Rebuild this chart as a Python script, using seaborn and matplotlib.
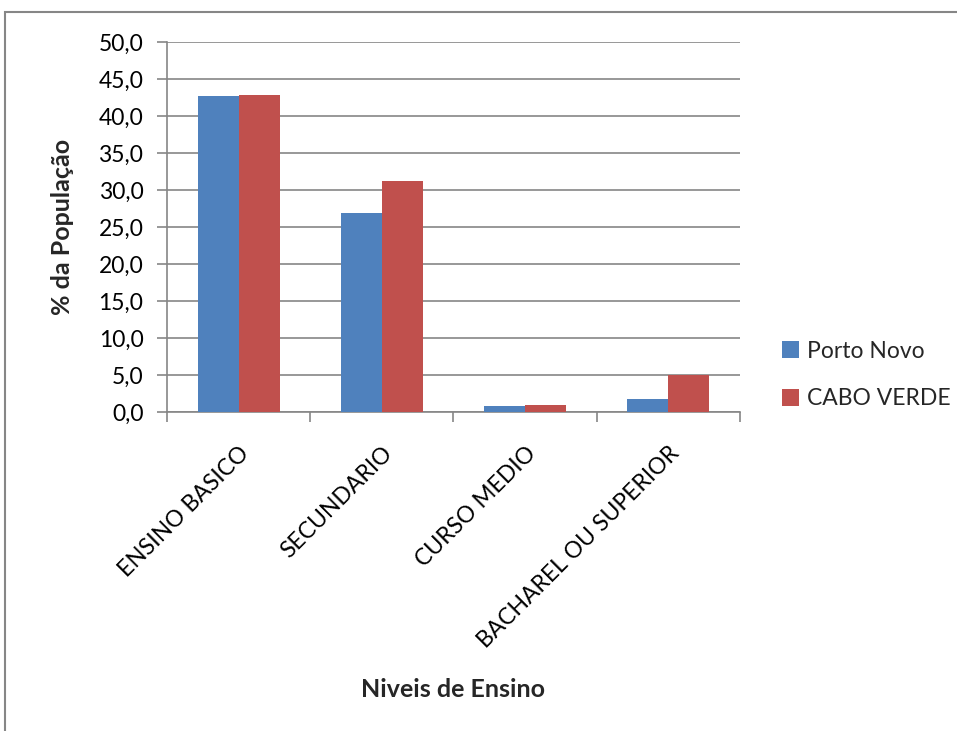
import matplotlib
matplotlib.use("Agg")
import matplotlib.pyplot as plt
from matplotlib.patches import Rectangle
from matplotlib.ticker import FuncFormatter, FixedLocator
import seaborn as sns
import pandas as pd

niveis = ["ENSINO BASICO", "SECUNDARIO", "CURSO MEDIO", "BACHAREL OU SUPERIOR"]
porto_novo = [42.7, 26.9, 0.8, 1.7]
cabo_verde = [42.9, 31.2, 0.95, 5.0]
series = ["Porto Novo", "CABO VERDE"]
cores = ["#4F81BD", "#C0504D"]

df = pd.DataFrame({
    "nivel": niveis * 2,
    "valor": porto_novo + cabo_verde,
    "serie": [series[0]] * len(niveis) + [series[1]] * len(niveis),
})

sns.set_theme(style="white")
plt.rcParams["font.family"] = ["Lato", "DejaVu Sans"]

fs = 16.5
fs_bold = 18
fig = plt.figure(figsize=(9.57, 7.31), dpi=100)
ax = fig.add_axes([0.1745, 0.4364, 0.5985, 0.5061])

sns.barplot(data=df, x="nivel", y="valor", hue="serie", order=niveis,
            hue_order=series, palette=cores, width=0.573, saturation=1,
            ax=ax, edgecolor="none", zorder=3)

grey = "#868686"
ax.set_ylim(0, 50)
ax.set_xlim(-0.5, len(niveis) - 0.5)
ax.set_yticks([i * 5 for i in range(11)])
ax.yaxis.set_major_formatter(FuncFormatter(lambda v, p: f"{v:.1f}".replace(".", ",")))
ax.grid(axis="y", color=grey, linewidth=1.2, zorder=0)
ax.set_axisbelow(True)
for s in ["top", "right"]:
    ax.spines[s].set_visible(False)
for s in ["left", "bottom"]:
    ax.spines[s].set_color(grey)
    ax.spines[s].set_linewidth(1.2)

# category separators as x ticks, labels at category centres
ax.xaxis.set_major_locator(FixedLocator([i - 0.5 for i in range(len(niveis) + 1)]))
ax.xaxis.set_major_formatter(FuncFormatter(lambda v, p: ""))
ax.xaxis.set_minor_locator(FixedLocator(list(range(len(niveis)))))
ax.set_xticklabels(niveis, minor=True, rotation=45, ha="right", va="top",
                   rotation_mode="anchor", fontsize=fs, color="black")
ax.tick_params(axis="x", which="major", bottom=True, length=7, color=grey, width=1.2)
ax.tick_params(axis="x", which="minor", bottom=False, pad=18)
ax.tick_params(axis="y", left=True, length=7, color=grey, width=1.2,
               labelsize=fs, labelcolor="black", pad=10)

ax.set_xlabel("Niveis de Ensino", fontsize=fs_bold, fontweight="bold", labelpad=0)
ax.xaxis.set_label_coords(0.5, (412 - 690) / 370 * 1.0)
ax.xaxis.label.set_va("center")
ax.set_ylabel("% da População", fontsize=fs_bold, fontweight="bold")
ax.yaxis.set_label_coords((62 - 167) / 573, 0.5)
ax.yaxis.label.set_va("center")

leg = ax.legend(loc="center left", bbox_to_anchor=(0.073, 0.10), frameon=False,
                fontsize=fs, handlelength=0.75, handleheight=0.75,
                labelspacing=1.15, handletextpad=0.35, borderaxespad=0,
                borderpad=0)
leg.set_bbox_to_anchor((1.073, 0.10), transform=ax.transAxes)

# outer chart frame
fig.patches.append(Rectangle((5 / 957, -0.05), 1.1, 1 - 12 / 731 + 0.05,
                             transform=fig.transFigure, fill=False,
                             edgecolor=grey, linewidth=1.5))

fig.savefig("out.png", dpi=100)
